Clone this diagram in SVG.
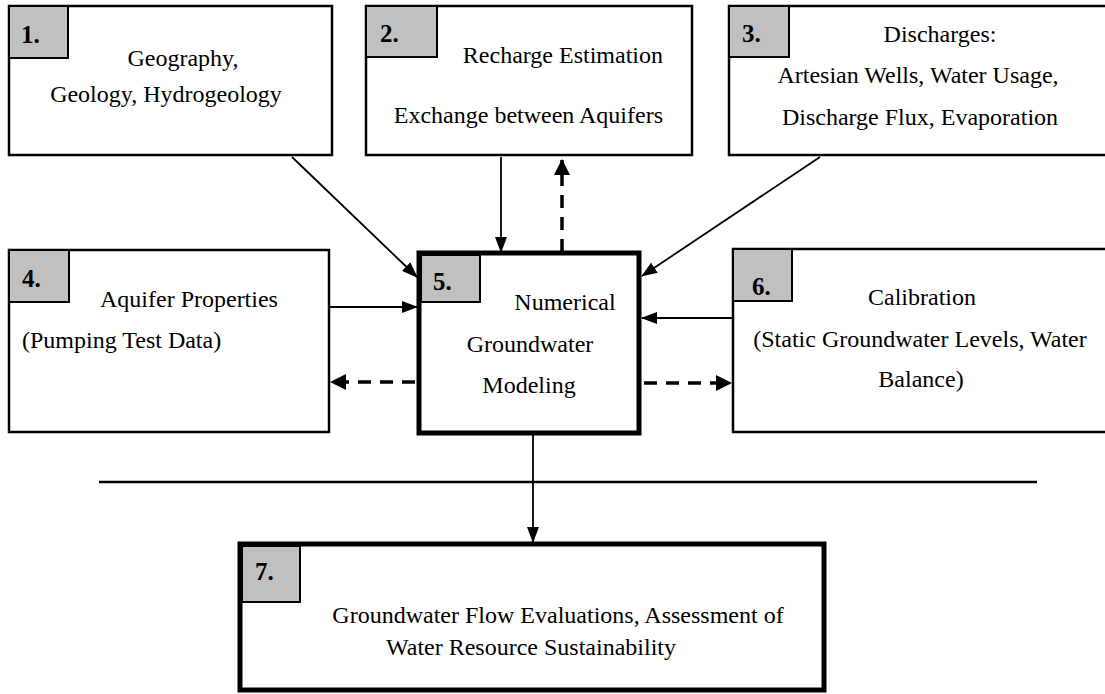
<svg xmlns="http://www.w3.org/2000/svg" width="1105" height="694" viewBox="0 0 1105 694">
<style>
.box{fill:#fff;stroke:#000;stroke-width:2.5}
.thick{fill:#fff;stroke:#000;stroke-width:5}
.tag{fill:#c0c0c0;stroke:#000;stroke-width:2}
.t{font-family:"Liberation Serif","Times New Roman",serif;font-size:24px;fill:#000}
.n{font-family:"Liberation Serif","Times New Roman",serif;font-size:25px;font-weight:bold;fill:#000}
.c{text-anchor:middle}
.e{text-anchor:end}
.sol{stroke:#000;stroke-width:1.8;fill:none}
.dash{stroke:#000;stroke-width:3.5;fill:none;stroke-dasharray:13 9}
</style>
<defs>
<marker id="ah" markerUnits="userSpaceOnUse" markerWidth="16" markerHeight="12" refX="15" refY="6" orient="auto">
<path d="M0,0 L16,6 L0,12 z" fill="#000"/>
</marker>
<marker id="ahd" markerUnits="userSpaceOnUse" markerWidth="16" markerHeight="16" refX="15" refY="8" orient="auto">
<path d="M0,0 L16,8 L0,16 z" fill="#000"/>
</marker>
</defs>
<rect width="1105" height="694" fill="#fff"/>
<g id="connectors">
<line class="sol" x1="292" y1="157" x2="417" y2="277" marker-end="url(#ah)"/>
<line class="sol" x1="501" y1="157" x2="501" y2="252" marker-end="url(#ah)"/>
<line class="dash" x1="562" y1="252" x2="562" y2="160" marker-end="url(#ahd)"/>
<line class="sol" x1="820" y1="157" x2="642" y2="276" marker-end="url(#ah)"/>
<line class="sol" x1="330" y1="307" x2="417" y2="307" marker-end="url(#ah)"/>
<line class="dash" x1="415" y1="382" x2="331" y2="382" marker-end="url(#ahd)"/>
<line class="sol" x1="733" y1="318" x2="642" y2="318" marker-end="url(#ah)"/>
<line class="dash" x1="644" y1="383" x2="731" y2="383" marker-end="url(#ahd)"/>
<line class="sol" x1="533" y1="435" x2="533" y2="542" marker-end="url(#ah)"/>
<line x1="99" y1="482" x2="1037" y2="482" stroke="#000" stroke-width="2.5"/>
</g>
<g id="node1">
<rect class="box" x="9" y="6" width="323" height="149"/>
<rect class="tag" x="9" y="6" width="59" height="52"/>
<text class="n" x="21" y="43">1.</text>
<text class="t c" x="183" y="66">Geography,</text>
<text class="t c" x="166" y="102">Geology, Hydrogeology</text>
</g>
<g id="node2">
<rect class="box" x="366" y="6" width="326" height="149"/>
<rect class="tag" x="366" y="6" width="71" height="51"/>
<text class="n" x="380" y="42">2.</text>
<text class="t e" x="663" y="63">Recharge Estimation</text>
<text class="t e" x="663" y="123">Exchange between Aquifers</text>
</g>
<g id="node3">
<rect class="box" x="729" y="6" width="390" height="149"/>
<rect class="tag" x="729" y="6" width="60" height="51"/>
<text class="n" x="742" y="42">3.</text>
<text class="t c" x="940" y="42">Discharges:</text>
<text class="t c" x="918" y="83">Artesian Wells, Water Usage,</text>
<text class="t c" x="920" y="125">Discharge Flux, Evaporation</text>
</g>
<g id="node4">
<rect class="box" x="9" y="250" width="320" height="182"/>
<rect class="tag" x="9" y="250" width="60" height="52"/>
<text class="n" x="22" y="287">4.</text>
<text class="t" x="100" y="307">Aquifer Properties</text>
<text class="t" x="22" y="348">(Pumping Test Data)</text>
</g>
<g id="node5">
<rect class="thick" x="419" y="253" width="220" height="180"/>
<rect class="tag" x="421" y="255" width="59" height="47"/>
<text class="n" x="433" y="290">5.</text>
<text class="t c" x="565" y="310">Numerical</text>
<text class="t c" x="530" y="352">Groundwater</text>
<text class="t c" x="529" y="393">Modeling</text>
</g>
<g id="node6">
<rect class="box" x="733" y="249" width="390" height="183"/>
<rect class="tag" x="733" y="249" width="59" height="52"/>
<text class="n" x="752" y="295">6.</text>
<text class="t c" x="922" y="305">Calibration</text>
<text class="t c" x="920" y="347">(Static Groundwater Levels, Water</text>
<text class="t c" x="921" y="387">Balance)</text>
</g>
<g id="node7">
<rect class="thick" x="240" y="544" width="584" height="146"/>
<rect class="tag" x="242" y="546" width="58" height="56"/>
<text class="n" x="255" y="580">7.</text>
<text class="t c" x="558" y="623">Groundwater Flow Evaluations, Assessment of</text>
<text class="t c" x="531" y="655">Water Resource Sustainability</text>
</g>
</svg>
